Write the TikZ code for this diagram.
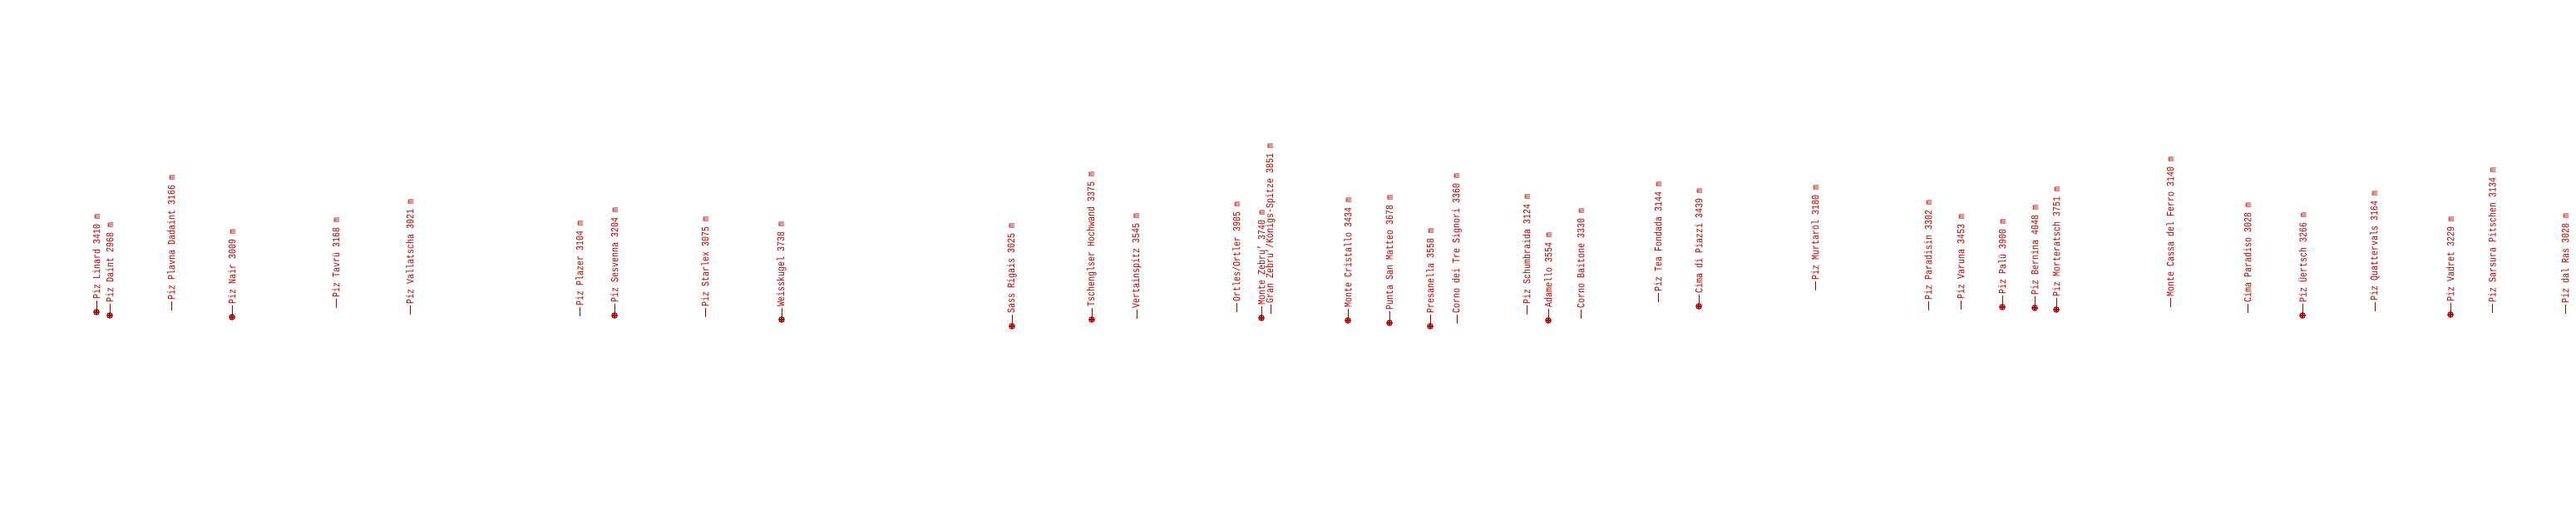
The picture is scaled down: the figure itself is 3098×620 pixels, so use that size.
\documentclass[tikz,border=0pt]{standalone}
\usepackage{fontspec}
\newfontfamily\peakfont[FakeStretch=0.8]{Liberation Mono}
\definecolor{peak}{RGB}{165,0,0}
\tikzset{
  peaklabel/.style={rotate=90, anchor=west, inner sep=0pt, text=peak,
    font=\peakfont\fontsize{12.5}{12.5}\selectfont},
  tick/.style={draw=peak, line width=1pt},
  summit/.style={draw=peak, line width=1.1pt}
}
\newcommand{\pk}[4]{%
  \coordinate (#1) at (#2,#3);
  \node[peaklabel] (#1-l) at ([yshift=15.5pt]#1) {#4};
  \draw[tick] ([yshift=3pt]#1) -- ([yshift=-1.5pt]#1-l.west);
}
\newcommand{\mk}[1]{%
  \draw[summit] (#1) circle (3.2pt);
  \draw[summit] ([xshift=-3.2pt]#1) -- ([xshift=3.2pt]#1)
                ([yshift=-3.2pt]#1) -- ([yshift=3.2pt]#1);
}
\begin{document}
\begin{tikzpicture}[x=1pt,y=-1pt]
\fill[white] (0,0) rectangle (3098,620);
\useasboundingbox (0,0) rectangle (3098,620);
\pk{linard}{116}{375}{Piz Linard 3410 m}\mk{linard}
\pk{daint}{132}{379}{Piz Daint 2968 m}\mk{daint}
\pk{plavna}{206}{376}{Piz Plavna Dadaint 3166 m}
\pk{nair}{279}{381}{Piz Nair 3009 m}\mk{nair}
\pk{tavru}{404}{373}{Piz Tavrü 3168 m}
\pk{vallatscha}{493}{381}{Piz Vallatscha 3021 m}
\pk{plazer}{697}{383}{Piz Plazer 3104 m}
\pk{sesvenna}{739}{379}{Piz Sesvenna 3204 m}\mk{sesvenna}
\pk{starlex}{848}{384}{Piz Starlex 3075 m}
\pk{weisskugel}{940}{384}{Weisskugel 3738 m}\mk{weisskugel}
\pk{rigais}{1217}{392}{Sass Rigais 3025 m}\mk{rigais}
\pk{tschenglser}{1313}{384}{Tschenglser Hochwand 3375 m}\mk{tschenglser}
\pk{vertain}{1367}{386}{Vertainspitz 3545 m}
\pk{ortles}{1487}{378}{Ortles/Ortler 3905 m}
\pk{zebru}{1517}{382}{Monte Zebru’ 3740 m}\mk{zebru}
\pk{granzebru}{1528}{380}{Gran Zebru’/Königs-Spitze 3851 m}
\pk{cristallo}{1621}{385}{Monte Cristallo 3434 m}\mk{cristallo}
\pk{matteo}{1671}{388}{Punta San Matteo 3678 m}\mk{matteo}
\pk{presanella}{1720}{392}{Presanella 3558 m}\mk{presanella}
\pk{tresignori}{1752}{392}{Corno dei Tre Signori 3360 m}
\pk{schumbraida}{1836}{381}{Piz Schumbraida 3124 m}
\pk{adamello}{1862}{385}{Adamello 3554 m}\mk{adamello}
\pk{baitone}{1901}{386}{Corno Baitone 3330 m}
\pk{fondada}{1994}{366}{Piz Tea Fondada 3144 m}
\pk{piazzi}{2043}{368}{Cima di Piazzi 3439 m}\mk{piazzi}
\pk{murtarol}{2183}{352}{Piz Murtaröl 3180 m}
\pk{paradisin}{2319}{376}{Piz Paradisin 3302 m}
\pk{varuna}{2358}{375}{Piz Varuna 3453 m}
\pk{palu}{2408}{369}{Piz Palü 3900 m}\mk{palu}
\pk{bernina}{2447}{370}{Piz Bernina 4048 m}\mk{bernina}
\pk{morteratsch}{2473}{372}{Piz Morteratsch 3751 m}\mk{morteratsch}
\pk{cassa}{2610}{372}{Monte Cassa del Ferro 3140 m}
\pk{paradiso}{2703}{379}{Cima Paradiso 3028 m}
\pk{uertsch}{2769}{379}{Piz Üertsch 3266 m}\mk{uertsch}
\pk{quattervals}{2856}{377}{Piz Quattervals 3164 m}
\pk{vadret}{2947}{378}{Piz Vadret 3229 m}\mk{vadret}
\pk{sarsura}{2997}{379}{Piz Sarsura Pitschen 3134 m}
\pk{ras}{3085}{380}{Piz dal Ras 3028 m}
\end{tikzpicture}
\end{document}
